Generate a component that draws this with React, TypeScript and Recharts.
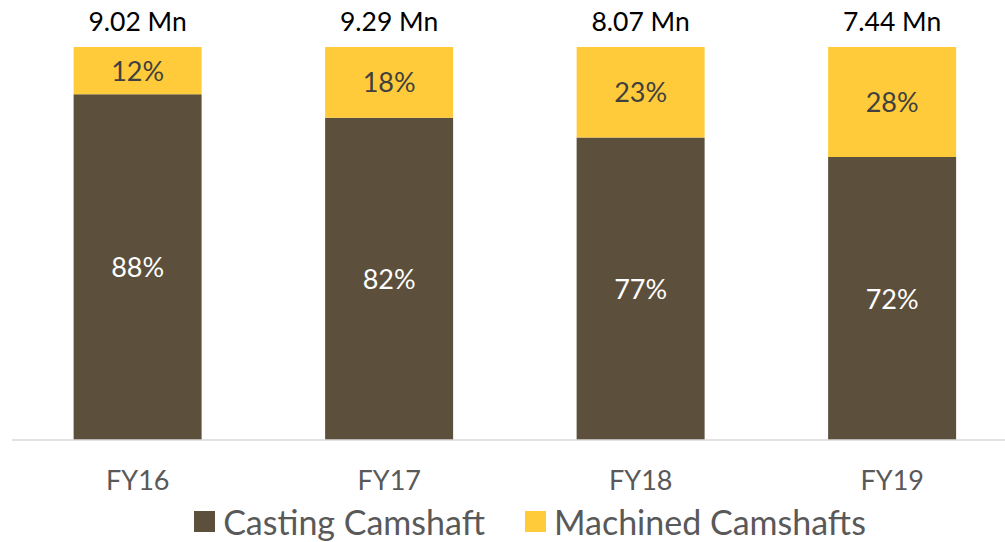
import { Bar, BarChart, Legend, LabelList, XAxis, YAxis } from 'recharts'

const years = ['FY16', 'FY17', 'FY18', 'FY19']
const casting = [88, 82, 77, 72]
const machined = [12, 18, 23, 28]
const totals = ['9.02 Mn', '9.29 Mn', '8.07 Mn', '7.44 Mn']

const BROWN = '#5C503C'
const GOLD = '#FFCB3A'
const FONT = 'Lato, "Open Sans", sans-serif'

const data = years.map((year, i) => ({
  year,
  casting: casting[i],
  machined: machined[i],
  total: totals[i],
}))

const legendItems = [
  { label: 'Casting Camshaft', color: BROWN },
  { label: 'Machined Camshafts', color: GOLD },
]

const renderLegend = () => (
  <div
    style={{
      display: 'flex',
      justifyContent: 'center',
      height: 50,
      boxSizing: 'border-box',
      paddingTop: 8,
      paddingLeft: 30,
      fontFamily: FONT,
    }}
  >
    {legendItems.map((item, i) => (
      <div key={item.label} style={{ display: 'flex', alignItems: 'center', marginRight: i === 0 ? 40 : 0 }}>
        <span style={{ width: 21, height: 21, background: item.color, marginRight: 8 }} />
        <span style={{ fontSize: 34, color: '#595959' }}>{item.label}</span>
      </div>
    ))}
  </div>
)

const pctLabel = (color: string) => (props: any) => {
  const { x, y, width, height, value } = props
  return (
    <text
      x={x + width / 2}
      y={y + height / 2 + 10}
      textAnchor="middle"
      fill={color}
      fontSize={27}
      fontFamily={FONT}
    >
      {value}%
    </text>
  )
}

const totalLabel = (props: any) => {
  const { x, y, width, index } = props
  return (
    <text x={x + width / 2} y={y - 16} textAnchor="middle" fill="#000" fontSize={26.5} fontFamily={FONT}>
      {totals[index]}
    </text>
  )
}

const Tick = (props: any) => {
  const { x, y, payload } = props
  return (
    <text x={x} y={y + 42} textAnchor="middle" fill="#595959" fontSize={27} fontFamily={FONT}>
      {payload.value}
    </text>
  )
}

export default function App() {
  return (
    <div style={{ position: 'absolute', left: 0, top: 0, width: 1005, height: 542, overflow: 'hidden' }}>
      <BarChart
        width={1018}
        height={542}
        data={data}
        margin={{ top: 47, right: 0, left: 12, bottom: 0 }}
        barCategoryGap="24.5%"
      >
        <XAxis
          dataKey="year"
          axisLine={{ stroke: '#D9D9D9', strokeWidth: 1.5 }}
          tickLine={false}
          tick={<Tick />}
          height={52}
        />
        <YAxis hide domain={[0, 100]} />
        <Legend verticalAlign="bottom" content={renderLegend} />
        <Bar dataKey="casting" name="Casting Camshaft" stackId="a" fill={BROWN} isAnimationActive={false}>
          <LabelList dataKey="casting" content={pctLabel('#FFFFFF')} />
        </Bar>
        <Bar dataKey="machined" name="Machined Camshafts" stackId="a" fill={GOLD} isAnimationActive={false}>
          <LabelList dataKey="machined" content={pctLabel('#404040')} />
          <LabelList dataKey="total" content={totalLabel} />
        </Bar>
      </BarChart>
    </div>
  )
}
